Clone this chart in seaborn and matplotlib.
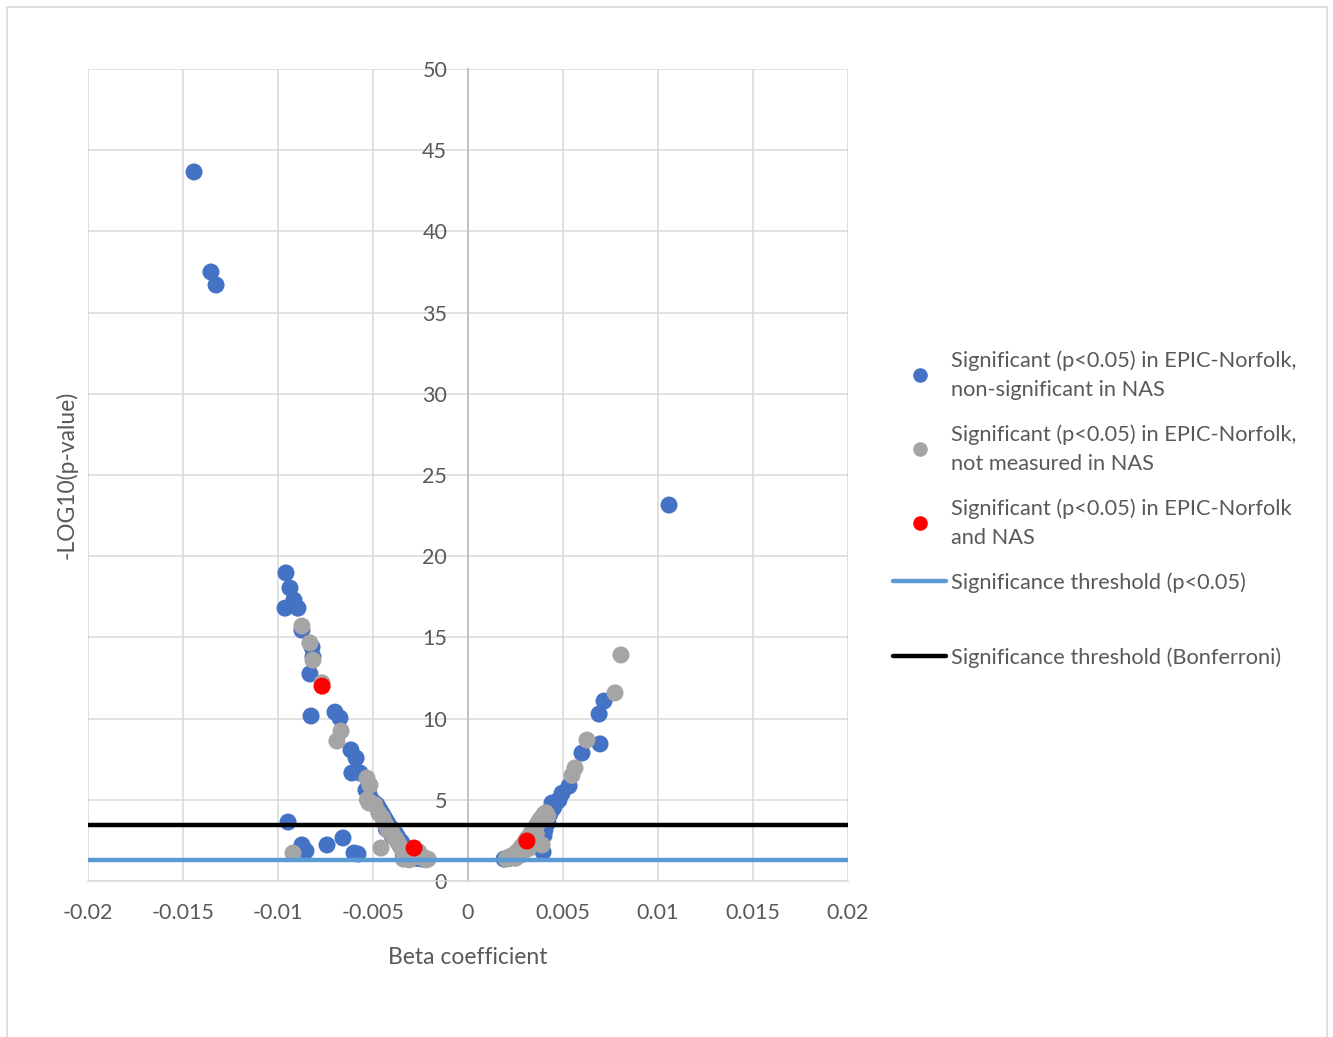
import numpy as np
import pandas as pd
import matplotlib
matplotlib.use("Agg")
import matplotlib.pyplot as plt
from matplotlib.lines import Line2D
from matplotlib.patches import Rectangle
import seaborn as sns

# ---- data ----
blue_x = [-0.01442, -0.01353, -0.01326, 0.01058,
          -0.00958, -0.00937, -0.00916, -0.00963, -0.00895, -0.00874, -0.00821, -0.00816,
          -0.00832, -0.00826, -0.00700, -0.00674, -0.00616, -0.00589, -0.00611, -0.00568,
          -0.00537, -0.00520, -0.00947, -0.00874, -0.00853, -0.00742, -0.00658, -0.00600, -0.00579,
          -0.0052, -0.0050, -0.0048, -0.0047, -0.0046, -0.0045, -0.0044, -0.0043, -0.0042,
          -0.0041, -0.0040, -0.0039, -0.0038, -0.0037, -0.0036, -0.0035, -0.0034, -0.0033,
          -0.0032, -0.0031, -0.0030, -0.0034, -0.0033, -0.0029, -0.0028, -0.0026, -0.0024,
          -0.0022, -0.0043, -0.0040,
          0.00716, 0.00690, 0.00695, 0.00600, 0.00532, 0.00495, 0.00479, 0.00447, 0.00442,
          0.00405, 0.00395,
          0.0019, 0.0022, 0.0026, 0.0029, 0.0032, 0.0035, 0.0037, 0.0038, 0.0040, 0.0042,
          0.0043, 0.0045, 0.0047]
blue_y = [43.66, 37.5, 36.7, 23.15,
          18.97, 18.04, 17.3, 16.8, 16.8, 15.45, 14.4, 13.8,
          12.75, 10.16, 10.4, 10.04, 8.07, 7.57, 6.65, 6.65,
          5.6, 5.3, 3.63, 2.22, 1.85, 2.22, 2.65, 1.72, 1.66,
          5.2, 4.9, 4.7, 4.5, 4.3, 4.1, 3.9, 3.7, 3.5,
          3.3, 3.2, 3.0, 2.9, 2.7, 2.5, 2.4, 2.2, 2.0,
          1.9, 1.7, 1.6, 1.5, 1.4, 1.5, 1.4, 1.4, 1.35,
          1.35, 3.2, 2.8,
          11.08, 10.28, 8.44, 7.88, 5.85, 5.4, 4.99, 4.62, 4.8,
          3.14, 1.79,
          1.35, 1.4, 1.8, 2.0, 2.3, 2.6, 2.5, 2.2, 2.8, 3.6,
          4.1, 4.5, 4.9]

gray_x = [-0.00874, -0.00832, -0.00816, -0.00768, -0.00668, -0.00690, -0.00532, -0.00516,
          -0.00521, -0.00921, -0.00458,
          -0.0053, -0.0051, -0.0049, -0.0047, -0.0045, -0.0044, -0.0043, -0.0042, -0.0040,
          -0.0039, -0.0038, -0.0037, -0.0036, -0.0035, -0.0034, -0.0033, -0.0032, -0.0031,
          -0.0030, -0.0029, -0.0028, -0.0027, -0.0026, -0.0025, -0.0024, -0.0023, -0.0022,
          -0.0021, -0.0031, -0.0034,
          0.00805, 0.00774, 0.00626, 0.00563, 0.00547, 0.00390,
          0.0020, 0.0021, 0.0022, 0.0023, 0.0024, 0.0025, 0.0026, 0.0027, 0.0028, 0.0029,
          0.0030, 0.0031, 0.0032, 0.0033, 0.0034, 0.0035, 0.0036, 0.0037, 0.0038, 0.0039,
          0.0040, 0.0041, 0.0042, 0.0025, 0.0028, 0.0032, 0.0036]
gray_y = [15.7, 14.66, 13.6, 12.2, 9.24, 8.62, 6.34, 5.9,
          4.8, 1.72, 2.03,
          5.0, 4.8, 4.7, 4.2, 3.9, 3.6, 3.4, 3.1, 3.0,
          2.7, 2.6, 2.4, 2.2, 2.0, 1.9, 1.8, 1.6, 1.5,
          1.4, 1.7, 1.6, 1.5, 1.8, 1.6, 1.5, 1.4, 1.3,
          1.35, 1.3, 1.35,
          13.92, 11.58, 8.68, 6.96, 6.5, 2.22,
          1.35, 1.4, 1.5, 1.45, 1.6, 1.7, 1.6, 1.9, 2.1, 2.2,
          2.4, 2.6, 2.7, 2.9, 3.1, 3.2, 3.4, 3.6, 3.8, 3.9,
          4.1, 4.2, 4.0, 1.4, 1.6, 2.0, 2.9]

red_x = [-0.00768, -0.00284, 0.00310]
red_y = [12.0, 2.03, 2.46]

group_names = ["Significant (p<0.05) in EPIC-Norfolk,\nnon-significant in NAS",
               "Significant (p<0.05) in EPIC-Norfolk,\nnot measured in NAS",
               "Significant (p<0.05) in EPIC-Norfolk\nand NAS"]
threshold_p05 = 1.30
threshold_bonf = 3.45
line_names = ["Significance threshold (p<0.05)", "Significance threshold (Bonferroni)"]

x_ticks = [-0.02, -0.015, -0.01, -0.005, 0, 0.005, 0.01, 0.015, 0.02]
x_tick_labels = ["-0.02", "-0.015", "-0.01", "-0.005", "0", "0.005", "0.01", "0.015", "0.02"]
y_ticks = [0, 5, 10, 15, 20, 25, 30, 35, 40, 45, 50]

colors = ["#4472C4", "#A5A5A5", "#FF0000"]
line_colors = ["#5B9BD5", "#000000"]

df = pd.concat([
    pd.DataFrame({"beta": blue_x, "logp": blue_y, "group": group_names[0]}),
    pd.DataFrame({"beta": gray_x, "logp": gray_y, "group": group_names[1]}),
    pd.DataFrame({"beta": red_x, "logp": red_y, "group": group_names[2]}),
], ignore_index=True)

# ---- figure ----
sns.set_theme(style="white")
plt.rcParams["font.family"] = ["Lato", "DejaVu Sans"]
W, H = 1333, 1037
fig = plt.figure(figsize=(W / 100, H / 100), dpi=100)
ax = fig.add_axes([88 / W, 1 - 881 / H, (848 - 88) / W, (881 - 69) / H])

ax.set_xlim(-0.02, 0.02)
ax.set_ylim(0, 50)
ax.set_xticks(x_ticks)
ax.set_xticklabels(x_tick_labels)
ax.set_yticks(y_ticks)
ax.grid(True, color="#D9D9D9", linewidth=1.1)
ax.set_axisbelow(True)

for s in ["top", "right"]:
    ax.spines[s].set_visible(False)
ax.spines["bottom"].set_color("#D9D9D9")
ax.spines["bottom"].set_linewidth(1.1)
ax.spines["left"].set_position(("data", 0))
ax.spines["left"].set_color("#BFBFBF")
ax.spines["left"].set_linewidth(1.3)
ax.tick_params(axis="both", length=0, labelsize=15.5, colors="#595959")
ax.tick_params(axis="x", pad=16)
ax.tick_params(axis="y", pad=15)

sns.scatterplot(data=df, x="beta", y="logp", hue="group",
                palette=dict(zip(group_names, colors)), s=150, linewidth=0,
                alpha=1, legend=False, ax=ax, zorder=3)

ax.axhline(threshold_p05, color=line_colors[0], linewidth=3.2, zorder=4)
ax.axhline(threshold_bonf, color=line_colors[1], linewidth=3.2, zorder=4)

ax.set_xlabel("Beta coefficient", fontsize=16.5, color="#595959", labelpad=17)
ax.set_ylabel("-LOG10(p-value)", fontsize=16.5, color="#595959")
ax.yaxis.set_label_coords(-0.014, 0.5)

# legend
handles = [Line2D([], [], marker="o", linestyle="none", markersize=10.5,
                  markerfacecolor=c, markeredgewidth=0) for c in colors]
handles += [Line2D([], [], color=c, linewidth=3.2) for c in line_colors]
labels = group_names + line_names
leg_kw = dict(frameon=False, fontsize=15.7, handlelength=2.45, handletextpad=0.2,
              borderpad=0, borderaxespad=0, labelcolor="#595959", loc="upper left")
leg1 = fig.legend(handles[:4], labels[:4], bbox_to_anchor=(893 / W, 1 - 350 / H),
                  labelspacing=1.12, **leg_kw)
leg2 = fig.legend(handles[4:], labels[4:], bbox_to_anchor=(893 / W, 1 - 647 / H),
                  **leg_kw)
for leg in (leg1, leg2):
    for t in leg.get_texts():
        t.set_linespacing(1.56)

# outer chart border
fig.patches.append(Rectangle((7 / W, -0.05), (1327 - 7) / W, 1.05 - 7 / H,
                             transform=fig.transFigure, fill=False,
                             edgecolor="#D9D9D9", linewidth=1.2))

fig.savefig("out.png", dpi=100, facecolor="white")
